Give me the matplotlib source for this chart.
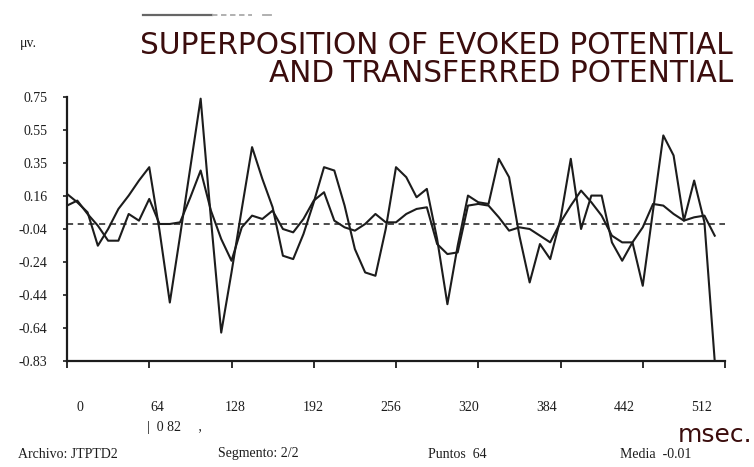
import matplotlib
matplotlib.use("Agg")
import matplotlib.pyplot as plt
from matplotlib.lines import Line2D
import numpy as np

W, H = 754, 467

# ---- data ----
evoked = [0.17, 0.12, 0.06, -0.14, -0.04, 0.08, 0.16, 0.25, 0.33, -0.05,
          -0.48, -0.08, 0.33, 0.74, 0.02, -0.66, -0.30, 0.08, 0.45, 0.26,
          0.09, -0.20, -0.22, -0.07, 0.12, 0.33, 0.31, 0.10, -0.16, -0.30,
          -0.32, -0.04, 0.33, 0.27, 0.15, 0.20, -0.10, -0.49, -0.14, 0.16,
          0.12, 0.11, 0.38, 0.27, -0.08, -0.36, -0.13, -0.22, 0.02, 0.38,
          -0.04, 0.16, 0.16, -0.12, -0.23, -0.12, -0.38, 0.07, 0.52, 0.40,
          0.01, 0.25, 0.00, -0.83]
transferred = [0.10, 0.13, 0.05, -0.02, -0.11, -0.11, 0.05, 0.01, 0.14, -0.01,
               -0.01, 0.00, 0.15, 0.31, 0.07, -0.10, -0.23, -0.03, 0.04, 0.02,
               0.07, -0.04, -0.06, 0.02, 0.13, 0.18, 0.01, -0.03, -0.05, -0.01,
               0.05, 0.00, 0.00, 0.05, 0.08, 0.09, -0.13, -0.19, -0.18, 0.10,
               0.11, 0.10, 0.03, -0.05, -0.03, -0.04, -0.08, -0.12, 0.00, 0.10,
               0.19, 0.12, 0.04, -0.08, -0.12, -0.12, -0.03, 0.11, 0.10, 0.05,
               0.01, 0.03, 0.04, -0.08]
sample_step_ms = 8
mean_level = -0.01
ytick_min, ytick_max = -0.83, 0.75
ytick_labels = ["-0.83", "-0.64", "-0.44", "-0.24", "-0.04", "0.16", "0.35", "0.55", "0.75"]
xtick_values = [0, 64, 128, 192, 256, 320, 384, 448, 512]
xtick_labels = ["0", "64", "128", "192", "256", "320", "384", "442", "512"]

title_1 = "SUPERPOSITION OF EVOKED POTENTIAL"
title_2 = "AND TRANSFERRED POTENTIAL"
unit_y = "\u03bcv."
unit_x = "msec."
footer = [("Archivo: JTPTD2", 18), ("Segmento: 2/2", 218), ("Puntos  64", 428), ("Media  -0.01", 620)]

TITLE_COLOR = "#3b0d0d"
INK = "#1c1c1c"
SERIF = ["Liberation Serif", "DejaVu Serif"]


def fx(px):
    return px / W


def fy(py):
    return 1 - py / H


fig = plt.figure(figsize=(W / 100, H / 100), dpi=100)
fig.patch.set_facecolor("white")

ax = fig.add_axes([fx(67), fy(361), (725 - 67) / W, (361 - 97) / H])
t = np.arange(len(evoked)) * sample_step_ms
ax.plot(t, evoked, color=INK, lw=1.5)
ax.plot(t, transferred, color=INK, lw=1.5)
ax.axhline(mean_level, color=INK, lw=1.1, ls=(0, (4, 3)))
ax.set_xlim(0, 512)
ax.set_ylim(ytick_min, ytick_max)
for s in ["top", "right"]:
    ax.spines[s].set_visible(False)
for s in ["left", "bottom"]:
    ax.spines[s].set_linewidth(1.6)
    ax.spines[s].set_color(INK)
ax.set_xticks(xtick_values)
ax.set_xticklabels([])
ax.tick_params(axis="x", direction="out", length=5, width=1.3, color=INK)
ax.set_yticks(np.linspace(ytick_min, ytick_max, len(ytick_labels)))
ax.set_yticklabels(ytick_labels, fontfamily=SERIF, fontsize=10, color=INK)
ax.tick_params(axis="y", direction="out", length=3, width=1.2, pad=11, color=INK)

# separate row of x labels (printed offset from the ticks in the original)
lab = fig.add_axes([fx(80), fy(401), (702 - 80) / W, 0.001])
lab.set_xlim(0, 512)
lab.set_xticks(xtick_values)
lab.set_xticklabels(xtick_labels, fontfamily=SERIF, fontsize=10, color=INK)
lab.tick_params(axis="x", length=0, pad=0)
lab.set_yticks([])
for s in lab.spines.values():
    s.set_visible(False)
lab.patch.set_visible(False)

# titles
fig.text(fx(733), fy(46), title_1, ha="right", va="center", fontsize=21.3,
         color=TITLE_COLOR, family="DejaVu Sans")
fig.text(fx(733), fy(73), title_2, ha="right", va="center", fontsize=21.3,
         color=TITLE_COLOR, family="DejaVu Sans")
fig.text(fx(752), fy(435), unit_x, ha="right", va="center", fontsize=18,
         color=TITLE_COLOR, family="DejaVu Sans")
fig.text(fx(20), fy(43), unit_y, ha="left", va="center", fontsize=10,
         color=INK, family=SERIF)

# small marks under the axis
fig.text(fx(147), fy(428), "|  0 82     ,", ha="left", va="center", fontsize=10,
         color=INK, family=SERIF)

for txt, px in footer:
    fig.text(fx(px), fy(454), txt, ha="left", va="center", fontsize=10,
             color=INK, family=SERIF)

# faint rule at top
fig.add_artist(Line2D([fx(143), fx(212)], [fy(15), fy(15)], color="#666666", lw=1.6))
fig.add_artist(Line2D([fx(212), fx(252)], [fy(15), fy(15)], color="#aaaaaa", lw=1.3,
                      ls=(0, (3, 2))))
fig.add_artist(Line2D([fx(263), fx(271)], [fy(15), fy(15)], color="#aaaaaa", lw=1.3))

fig.savefig("out.png", dpi=100, facecolor="white")
